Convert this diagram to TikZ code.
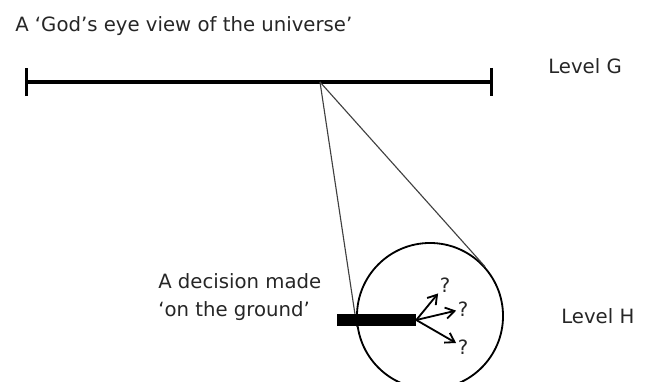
\documentclass[tikz,border=0pt]{standalone}
\usepackage{fontspec}
\setmainfont{DejaVu Sans}
\usetikzlibrary{arrows.meta, positioning, calc}

\begin{document}
\begin{tikzpicture}[
    x=0.025cm, y=-0.025cm,
    font=\fontsize{14}{17}\selectfont,
    lbl/.style={inner sep=0pt, text=black!85, anchor=base west},
    scaleline/.style={line width=2.2pt, {Bar[width=0.7cm]}-{Bar[width=0.7cm]}},
    viewline/.style={line width=0.8pt, black!75},
    branch/.style={-{Straight Barb[length=2.2mm, width=2.8mm]}, line width=1.3pt},
    qmark/.style={inner sep=1pt, text=black!85}
]
\useasboundingbox (0,0) rectangle (649,381);
% level G: the whole line
\node[lbl] (title) at (15,32) {A ‘God’s eye view of the universe’};
\coordinate (gleft) at (25,82);
\coordinate (gright) at (493,82);
\coordinate (apex) at (320,82);
\draw[scaleline] (gleft) -- (gright);
\node[lbl] (levelg) at (548,74) {Level G};
% level H: zoomed in
\node[circle, draw, line width=1.3pt, minimum size=3.65cm, inner sep=0pt] (zoomcirc) at (430,316) {};
\draw[viewline] (apex) -- (tangent cs:node=zoomcirc, point={(apex)}, solution=1);
\draw[viewline] (apex) -- (tangent cs:node=zoomcirc, point={(apex)}, solution=2);
\node[rectangle, fill=black, minimum width=1.975cm, minimum height=0.3cm, inner sep=0pt] (bar) at (376.5,320) {};
\node[inner sep=0pt, anchor=west, align=left, text=black!85, font=\fontsize{14}{19.5}\selectfont] (decision) at (158,297) {A decision made\\‘on the ground’};
\node[qmark] (q1) at (445,285) {?};
\node[qmark] (q2) at (463,309) {?};
\node[qmark] (q3) at (463,347) {?};
\draw[branch] (bar.east) -- (q1);
\draw[branch] (bar.east) -- (q2);
\draw[branch] (bar.east) -- (q3);
\node[lbl] (levelh) at (561,323) {Level H};
\end{tikzpicture}
\end{document}
